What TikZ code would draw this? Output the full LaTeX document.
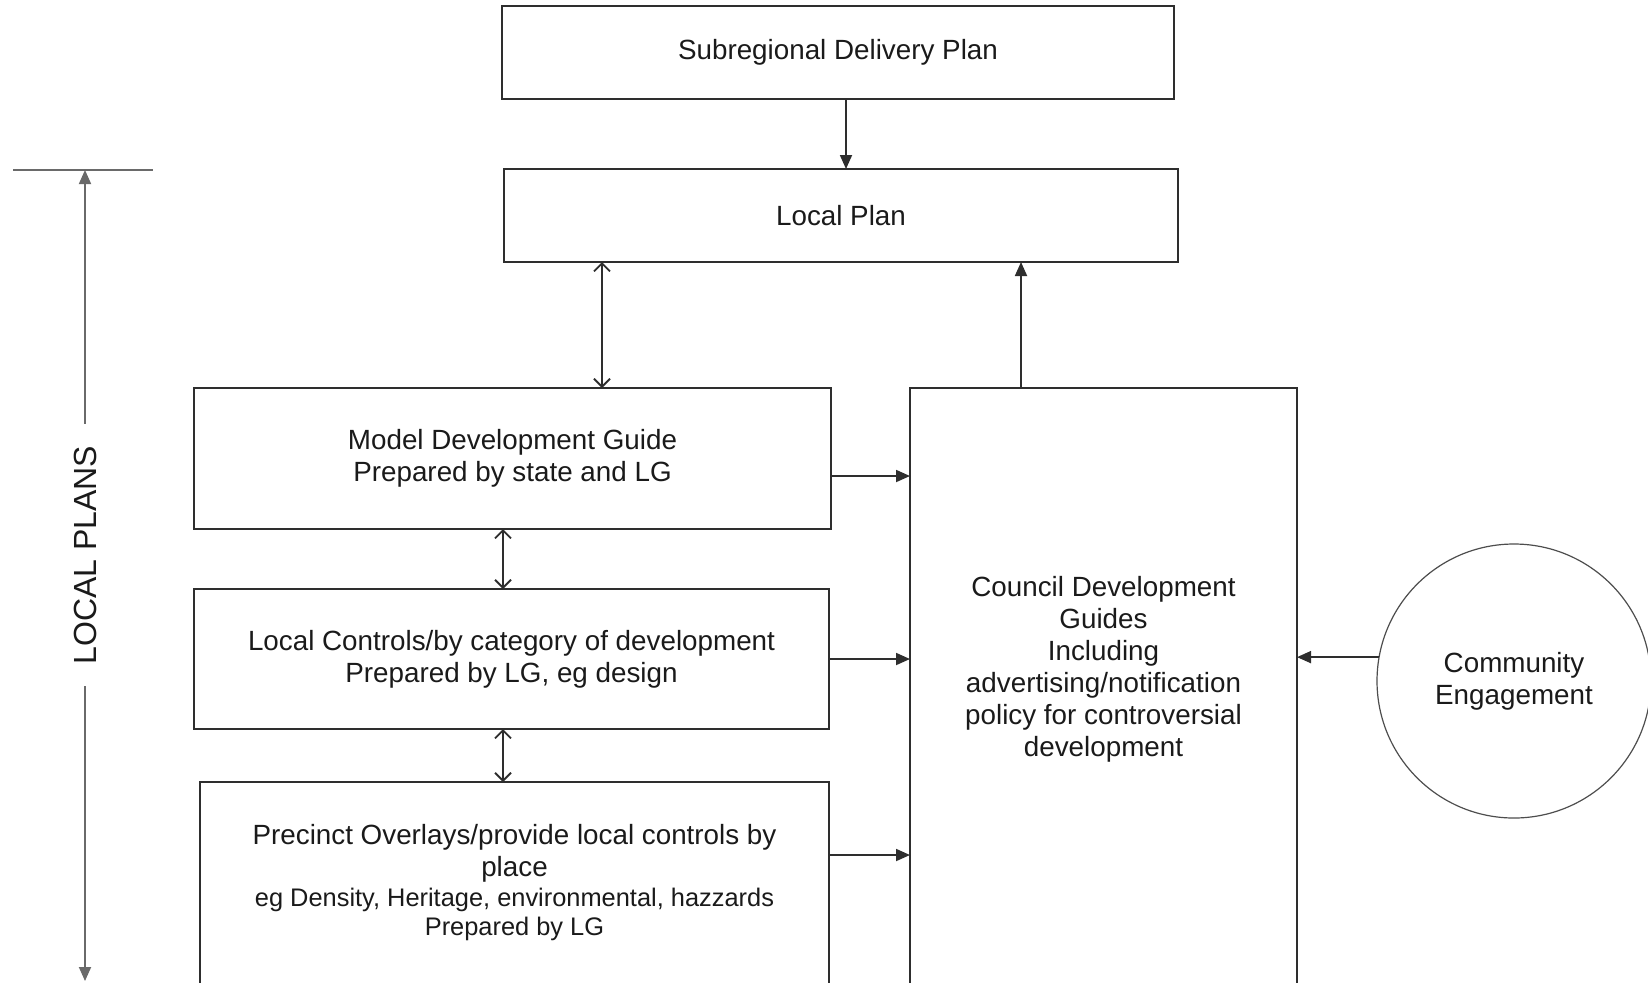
\documentclass[tikz,border=0pt]{standalone}
\usepackage{fontspec}
\setmainfont{Liberation Sans}
\usetikzlibrary{arrows.meta,calc}
\definecolor{ink}{HTML}{1A1A1A}
\definecolor{edge}{HTML}{2E2E2E}
\definecolor{axisc}{HTML}{6A6A6A}
\begin{document}
\begin{tikzpicture}[x=0.5pt,y=-0.5pt,
  txt/.style={text=ink,font=\fontsize{13.9}{16}\selectfont,align=center},
  box/.style={txt,draw=edge,line width=1pt,inner sep=0pt,outer sep=0pt},
  arr/.style={draw=edge,line width=0.9pt,-{Triangle[length=7pt,width=6pt]}},
  dbl/.style={draw=edge,line width=0.9pt,{Straight Barb[length=4pt,width=8pt]}-{Straight Barb[length=4pt,width=8pt]}},
  axisline/.style={draw=axisc,line width=0.9pt}
]
\useasboundingbox (0,0) rectangle (1648,982);
\clip (0,0) rectangle (1648,982);

% boxes
\node[box,minimum width=336pt,minimum height=46.5pt] (sub) at (838,52.5) {Subregional Delivery Plan};
\node[box,minimum width=337pt,minimum height=46.5pt] (lp) at (841,215.5) {Local Plan};
\node[box,minimum width=318.5pt,minimum height=70.5pt] (model) at (512.5,458.5) {Model Development Guide\\Prepared by state and LG};
\node[box,minimum width=317.5pt,minimum height=70pt] (lc) at (511.5,659) {Local Controls/by category of development\\Prepared by LG, eg design};
\node[box,minimum width=314.5pt,minimum height=101pt] (prec) at (514.5,883) {Precinct Overlays/provide local controls by\\place\\[-1pt]{\fontsize{12.7}{14.2}\selectfont eg Density, Heritage, environmental, hazzards}\\[-1.5pt]{\fontsize{12.7}{14.2}\selectfont Prepared by LG}};
\node[box,minimum width=193.5pt,minimum height=301pt] (council) at (1103.5,689) {};
\node[txt] (ctext) at (1103.5,669) {Council Development\\Guides\\Including\\advertising/notification\\policy for controversial\\development};
\node[txt,draw=edge!85,line width=0.6pt,circle,minimum size=137pt,inner sep=0pt] (ce) at (1514,681) {Community\\Engagement};

% connectors
\coordinate (xa) at (846,0);
\draw[arr] (sub.south -| xa) -- (lp.north -| xa);
\coordinate (xb) at (602,0);
\draw[dbl] (lp.south -| xb) -- (model.north -| xb);
\coordinate (xc) at (1021,0);
\draw[arr] (council.north -| xc) -- (lp.south -| xc);
\coordinate (xd) at (503,0);
\draw[dbl] (model.south -| xd) -- (lc.north -| xd);
\draw[dbl] (lc.south -| xd) -- (prec.north -| xd);
\coordinate (ya) at (0,476);
\draw[arr] (model.east |- ya) -- (council.west |- ya);
\draw[arr] (lc.east) -- (council.west |- lc.east);
\coordinate (yb) at (0,855);
\draw[arr] (prec.east |- yb) -- (council.west |- yb);
\draw[arr] (ce.170) -- (ce.170 -| council.east);

% left axis
\coordinate (tl) at (13,170);
\coordinate (tr) at (153,170);
\coordinate (axtop) at (85,170);
\coordinate (axbot) at (85,981);
\draw[axisline] (tl) -- (tr);
\draw[axisline,{Triangle[length=7pt,width=6pt]}-{Triangle[length=7pt,width=6pt]}] (axbot) -- (axtop);
\node[fill=white,rotate=90,text=ink,font=\fontsize{16}{18}\selectfont,inner xsep=11pt,inner ysep=2pt] (lplans) at (85,555) {LOCAL PLANS};
\end{tikzpicture}
\end{document}
